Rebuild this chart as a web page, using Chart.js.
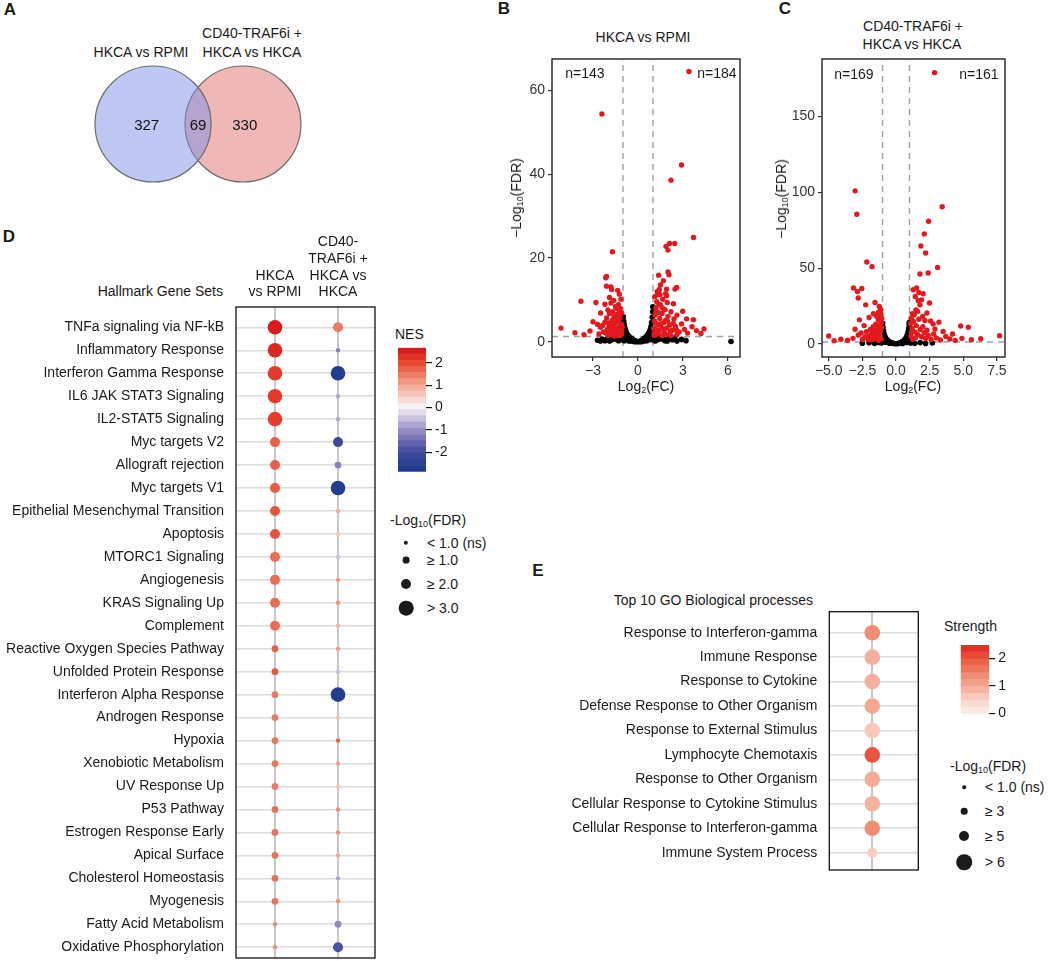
<!DOCTYPE html>
<html>
<head>
<meta charset="utf-8">
<title>Figure</title>
<script src="https://cdn.jsdelivr.net/npm/chart.js@4.4.1/dist/chart.umd.min.js"></script>
<style>
  body { margin:0; background:#fff; width:1050px; height:961px; position:relative; overflow:hidden;
         font-family:"Liberation Sans", Arial, sans-serif; color:#1a1a1a; }
  canvas, .t, .dot { position:absolute; }
  .t { font-size:14px; white-space:nowrap; line-height:16px; }
  .c { transform:translate(-50%,-50%); text-align:center; }
  .l { transform:translateY(-50%); }
  .r { transform:translate(-100%,-50%); text-align:right; }
  .p { font-weight:bold; font-size:17px; }
  .rot { transform:translate(-50%,-50%) rotate(-90deg); }
  sub { font-size:9px; vertical-align:-2px; line-height:0; }
  .dot { border-radius:50%; background:#1a1a1a; transform:translate(-50%,-50%); }
</style>
</head>
<body>

<!-- panel letters -->
<div class="t c p" style="left:10px;top:10px">A</div>
<div class="t c p" style="left:504px;top:9px">B</div>
<div class="t c p" style="left:785px;top:9px">C</div>
<div class="t c p" style="left:9px;top:237px">D</div>
<div class="t c p" style="left:538px;top:571px">E</div>

<!-- A -->
<div class="t c" style="left:141px;top:52px">HKCA vs RPMI</div>
<div class="t c" style="left:252px;top:33px">CD40-TRAF6i +</div>
<div class="t c" style="left:252px;top:52px">HKCA vs HKCA</div>
<canvas id="venn" width="240" height="130" style="left:80px;top:59px;width:240px;height:130px"></canvas>

<!-- B -->
<div class="t c" style="left:643px;top:37px">HKCA vs RPMI</div>
<canvas id="volcB" width="250" height="340" style="left:500px;top:55px;width:250px;height:340px"></canvas>
<div class="t c" style="left:585px;top:73px">n=143</div>
<div class="t c" style="left:717px;top:73px">n=184</div>
<div class="t rot" style="left:516px;top:198px">−Log<sub>10</sub>(FDR)</div>
<div class="t c" style="left:646px;top:386px">Log<sub>2</sub>(FC)</div>

<!-- C -->
<div class="t c" style="left:913px;top:26px">CD40-TRAF6i +</div>
<div class="t c" style="left:912px;top:44px">HKCA vs HKCA</div>
<canvas id="volcC" width="245" height="340" style="left:775px;top:55px;width:245px;height:340px"></canvas>
<div class="t c" style="left:854px;top:74px">n=169</div>
<div class="t c" style="left:979px;top:74px">n=161</div>
<div class="t rot" style="left:781px;top:199px">−Log<sub>10</sub>(FDR)</div>
<div class="t c" style="left:913px;top:386px">Log<sub>2</sub>(FC)</div>

<!-- D -->
<div class="t r" style="left:223px;top:291px">Hallmark Gene Sets</div>
<canvas id="dotD" width="380" height="736" style="left:0px;top:225px;width:380px;height:736px"></canvas>
<div class="t l" style="left:395px;top:334px">NES</div>
<canvas id="barD" width="80" height="140" style="left:390px;top:340px;width:80px;height:140px"></canvas>
<div class="t l" style="left:390px;top:520px">-Log<sub>10</sub>(FDR)</div>
<div class="dot" style="left:406px;top:543px;width:4.4px;height:4.4px"></div>
<div class="t l" style="left:427px;top:543px">&lt; 1.0 (ns)</div>
<div class="dot" style="left:406px;top:560px;width:6.8px;height:6.8px"></div>
<div class="t l" style="left:427px;top:560px">≥ 1.0</div>
<div class="dot" style="left:406px;top:583.5px;width:10px;height:10px"></div>
<div class="t l" style="left:427px;top:583.5px">≥ 2.0</div>
<div class="dot" style="left:406px;top:608px;width:14.6px;height:14.6px"></div>
<div class="t l" style="left:427px;top:608px">&gt; 3.0</div>

<!-- E -->
<div class="t r" style="left:813px;top:600px">Top 10 GO Biological processes</div>
<canvas id="dotE" width="385" height="315" style="left:540px;top:560px;width:385px;height:315px"></canvas>
<div class="t l" style="left:944px;top:626px">Strength</div>
<canvas id="barE" width="80" height="84" style="left:952px;top:638px;width:80px;height:84px"></canvas>
<div class="t l" style="left:950px;top:766px">-Log<sub>10</sub>(FDR)</div>
<div class="dot" style="left:964px;top:787px;width:3.6px;height:3.6px"></div>
<div class="t l" style="left:985px;top:787px">&lt; 1.0 (ns)</div>
<div class="dot" style="left:964px;top:811px;width:6.6px;height:6.6px"></div>
<div class="t l" style="left:985px;top:811px">≥ 3</div>
<div class="dot" style="left:964px;top:836px;width:10px;height:10px"></div>
<div class="t l" style="left:985px;top:836px">≥ 5</div>
<div class="dot" style="left:964px;top:862px;width:15.6px;height:15.6px"></div>
<div class="t l" style="left:985px;top:862px">&gt; 6</div>

<script>
// ---- data ----
const vennSets = ['HKCA vs RPMI', 'CD40-TRAF6i + HKCA vs HKCA'];
const vennCounts = [327, 69, 330];   // only left, overlap, only right

// volcano B : [log2FC, -log10 FDR]
const volcBRed = [
  [3.4,64.5],[-2.4,54.4],[2.9,42.2],[2.2,38.6],[3.7,24.9],[1.87,22.8],[2.45,23.5],[2.1,23.5],[2.0,21.9],
  [-1.7,21.5],[-2.1,15.6],[-2.15,15.3],[-1.8,13.1],[-1.75,12.5],[-1.35,12.3],[-1.24,11.4],[-2.1,13.3],
  [1.38,15.9],[2.0,16.7],[2.07,16.0],[1.69,14.6],[2.47,12.6],[2.58,13.0],[1.42,12.5],[1.91,12.6],[1.47,11.3],
  [1.91,11.0],[2.36,9.1],[2.98,7.3],[3.24,5.5],[3.69,5.3],[1.31,11.3],[1.85,11.5],
  [-3.8,9.7],[-2.8,9.4],[-2.2,9.0],[-1.8,9.3],[-1.3,8.9],[-1.13,10.2],[-2.49,6.9],[-2.09,5.7],[-5.13,3.3],
  [-3.0,4.8],[-2.7,4.2],[-2.5,3.5],[-2.35,3.9],
  [-2.0,7.6],[-1.9,6.8],[-1.7,7.2],[-1.6,6.1],[-1.5,5.4],[-1.4,6.6],[-1.3,4.9],[-1.2,5.8],[-1.1,4.2],
  [-1.05,3.5],[-1.15,2.8],[-1.25,3.6],[-1.35,2.4],[-1.45,3.1],[-1.55,2.2],[-1.65,4.0],[-1.75,3.2],[-1.85,2.6],
  [-1.95,4.5],[-2.05,3.0],[-2.15,2.1],[-1.1,1.8],[-1.2,1.5],[-1.4,1.6],[-1.6,1.4],[-1.8,1.9],[-2.0,1.6],
  [-2.3,2.4],[-2.6,1.9],[-3.2,2.6],[-3.6,1.7],[-4.2,2.2],[-1.08,6.9],[-1.18,8.0],[-1.5,8.4],[-1.62,9.9],[-1.9,10.6],
  [1.05,3.2],[1.1,5.0],[1.15,6.4],[1.2,8.1],[1.25,9.6],[1.3,4.1],[1.35,7.0],[1.4,2.6],[1.45,5.6],[1.5,8.8],
  [1.55,3.5],[1.6,6.8],[1.65,10.2],[1.7,4.6],[1.75,2.2],[1.8,7.7],[1.85,5.2],[1.9,3.3],[1.95,9.4],[2.0,6.1],
  [2.1,4.0],[2.2,7.2],[2.3,2.8],[2.4,5.5],[2.5,3.7],[2.6,6.4],[2.75,2.4],[2.9,4.3],[3.1,3.0],[3.3,2.1],
  [3.6,3.6],[3.9,2.7],[4.2,2.0],[4.4,3.1],[1.1,1.6],[1.3,1.9],[1.6,1.5],[1.9,1.7],[2.2,1.5],[2.6,1.8],
  [1.12,10.8],[1.28,12.0],[1.5,13.6],[1.2,7.2],[1.4,9.0],
  [1.08,2.0],[1.22,2.9],[1.48,4.3],[1.72,3.0],[1.98,4.9],[2.15,2.6],[2.35,4.4],[2.55,2.9],[1.18,4.5],[1.62,8.1],
  [-1.08,2.3],[-1.28,2.0],[-1.52,4.4],[-1.72,5.1],[-1.92,3.6],[-1.22,7.0],[-1.42,8.0],[-2.2,4.7]
];
const volcBBlack = [
  [-0.98,6.0],[-0.95,5.0],[-0.92,4.2],[-0.88,3.5],[-0.84,2.9],[-0.8,2.4],[-0.75,2.0],[-0.7,1.7],[-0.62,1.4],
  [-0.55,1.1],[-0.48,0.9],[-0.4,0.7],[-0.32,0.5],[-0.24,0.35],[-0.16,0.2],[-0.08,0.1],[0,0.05],[0.08,0.1],
  [0.16,0.2],[0.24,0.35],[0.32,0.55],[0.4,0.8],[0.48,1.0],[0.56,1.3],[0.64,1.7],[0.72,2.2],[0.8,2.8],
  [0.86,3.6],[0.91,4.6],[0.95,5.9],[0.98,7.2],[0.99,8.4],
  [-2.7,0.4],[-2.4,0.7],[-2.2,0.3],[-2.0,0.9],[-1.8,0.5],[-1.6,1.0],[-1.4,0.6],[-1.2,1.1],[-1.05,0.8],
  [-0.9,0.3],[-0.6,0.2],[-0.3,0.1],[0.3,0.1],[0.6,0.3],[0.9,0.5],[1.05,0.9],[1.2,0.4],[1.4,1.1],[1.6,0.7],
  [1.8,0.3],[2.0,0.9],[2.3,0.5],[2.6,0.2],[2.9,0.6],[3.2,0.3],[6.2,0.1],
  [-0.9,1.8],[-0.7,0.9],[-0.5,0.4],[0.5,0.5],[0.7,1.1],[0.9,2.0],[-0.95,2.8],[0.95,3.1],
  [-1.9,0.2],[-1.7,0.6],[-1.5,1.2],[-1.3,0.3],[-1.1,0.5],[-0.85,0.6],[-0.65,0.5],[-0.45,0.2],[-0.2,0.05],
  [0.2,0.05],[0.45,0.3],[0.65,0.6],[0.85,0.9],[1.0,1.2],[1.15,0.2],[1.35,0.6],[1.55,1.0],[1.75,0.5],
  [1.95,0.2],[2.15,0.7],[2.45,0.9],[-2.1,0.6],[-2.5,0.2],[-0.75,1.2],[0.75,1.5]
];

// volcano C
const volcCRed = [
  [2.87,179],[-3.04,101],[-2.91,85.6],[-2.17,54.1],[-1.78,51],[3.43,90.5],[2.42,81],[2.1,72.6],[1.85,64.7],
  [2.2,60],[3.09,50.5],[2.39,46.8],[1.78,46.2],[-3.16,36.9],[-2.87,34.6],[-2.54,36.6],[-2.81,30.3],[-2.25,25.8],
  [-1.56,27.4],[-1.24,24.7],[-1.13,22.5],[-1.68,19.9],[-1.43,18.1],[-1.06,17],[-2.72,15.9],[-2.37,12.1],[-3.04,9.7],
  [1.28,35.8],[1.53,36.9],[1.7,34],[2.02,33.1],[1.43,31.3],[1.65,28.7],[1.78,25.8],[1.48,22.5],[1.21,19.9],
  [1.98,18.1],[2.15,15.5],[2.57,15.2],[2.76,13.2],[3.19,14.4],[2.49,27],[1.9,29.1],[4.81,11.9],[5.38,11.1],
  [7.7,5.5],[-5.0,5.3],
  [-1.1,14.2],[-1.2,12.1],[-1.3,16.0],[-1.4,10.3],[-1.5,13.0],[-1.6,8.2],[-1.7,11.4],[-1.8,6.7],[-1.9,9.5],
  [-2.0,5.1],[-1.15,8.7],[-1.25,6.2],[-1.35,4.4],[-1.45,7.1],[-1.55,3.6],[-1.65,5.6],[-1.75,3.0],[-1.85,4.2],
  [-1.95,2.6],[-2.1,3.4],[-2.3,4.8],[-2.5,2.9],[-2.8,5.9],[-3.2,3.7],[-3.6,2.5],[-4.1,3.1],[-4.6,2.2],
  [-1.08,10.9],[-1.12,19.5],[-1.3,21.0],[-2.0,17.5],[-2.2,8.1],[-2.6,7.3],[-1.1,3.3],[-1.3,2.4],
  [1.08,13.5],[1.12,17.0],[1.2,10.2],[1.3,14.8],[1.4,8.0],[1.5,12.1],[1.6,6.3],[1.7,16.3],[1.8,9.6],[1.9,4.8],
  [2.0,11.4],[2.1,7.4],[2.2,3.6],[2.3,9.0],[2.4,5.6],[2.6,3.1],[2.8,6.6],[3.0,4.0],[3.3,2.6],[3.7,5.0],
  [4.0,3.3],[4.4,2.4],[4.9,3.7],[5.6,2.8],[6.3,3.5],[1.1,5.2],[1.25,3.1],[1.45,4.1],[1.15,7.6],[1.35,19.2],
  [1.6,21.5],[2.3,20.4],[2.9,9.8],[3.5,8.2],[4.2,6.6]
];
const volcCBlack = [
  [-0.99,13.7],[-0.97,11.2],[-0.94,9.0],[-0.9,7.2],[-0.85,5.6],[-0.8,4.4],[-0.73,3.4],[-0.65,2.6],[-0.56,1.9],
  [-0.46,1.3],[-0.36,0.9],[-0.26,0.5],[-0.16,0.3],[-0.06,0.1],[0.06,0.1],[0.16,0.3],[0.26,0.6],[0.36,1.0],
  [0.46,1.5],[0.56,2.1],[0.65,2.9],[0.73,3.8],[0.8,5.0],[0.86,6.5],[0.91,8.3],[0.95,10.4],[0.98,12.6],[0.99,14.1],
  [-2.5,0.5],[-2.0,0.8],[-1.6,0.4],[-1.3,1.0],[-1.1,0.6],[-0.8,1.2],[-0.5,0.4],[0.5,0.3],[0.8,1.0],[1.1,0.7],
  [1.4,0.4],[1.8,0.9],[2.2,0.3],[2.7,0.6],[-0.9,3.0],[0.9,3.4],[-0.7,1.5],[0.7,1.6]
];
const volcBXTicks = [-3, 0, 3, 6];
const volcBYTicks = [0, 20, 40, 60];
const volcCXTicks = [-5, -2.5, 0, 2.5, 5, 7.5];
const volcCYTicks = [0, 50, 100, 150];

// D : hallmark gene sets
const hallmarkSets = ['TNFa signaling via NF-kB','Inflammatory Response','Interferon Gamma Response',
  'IL6 JAK STAT3 Signaling','IL2-STAT5 Signaling','Myc targets V2','Allograft rejection','Myc targets V1',
  'Epithelial Mesenchymal Transition','Apoptosis','MTORC1 Signaling','Angiogenesis','KRAS Signaling Up',
  'Complement','Reactive Oxygen Species Pathway','Unfolded Protein Response','Interferon Alpha Response',
  'Androgen Response','Hypoxia','Xenobiotic Metabolism','UV Response Up','P53 Pathway','Estrogen Response Early',
  'Apical Surface','Cholesterol Homeostasis','Myogenesis','Fatty Acid Metabolism','Oxidative Phosphorylation'];
const hallmarkColumns = [['HKCA','vs RPMI'], ['CD40-','TRAF6i +','HKCA vs','HKCA']];
const nesHkca = [2.55,2.4,2.15,2.15,2.1,1.75,1.75,1.8,1.85,1.9,1.6,1.6,1.6,1.6,1.75,1.8,1.45,1.45,1.5,1.5,
  1.45,1.55,1.55,1.55,1.6,1.55,1.25,1.25];
const fdrHkca = [3.6,3.5,3.4,3.4,3.3,2.5,2.4,2.4,2.5,2.5,2.4,2.4,2.4,2.4,1.6,1.5,1.5,1.5,1.5,1.5,
  1.5,1.5,1.4,1.4,1.4,1.4,0.7,0.6];
const nesTraf = [1.45,-1.2,-2.7,-0.8,-0.75,-2.0,-1.2,-2.7,0.9,0.6,-0.5,1.2,1.2,0.8,1.1,-0.5,-2.7,0.65,1.7,
  1.05,0.6,1.25,1.25,0.95,-0.8,1.25,-1.1,-1.9];
const fdrTraf = [2.3,0.4,3.6,0.3,0.3,2.4,1.3,3.5,0.4,0.3,0.2,0.3,0.3,0.2,0.3,0.2,3.6,0.2,0.5,0.3,0.2,0.4,0.4,
  0.3,0.3,0.4,1.4,2.4];
const nesTicks = [-2, -1, 0, 1, 2];

// E : GO processes
const goTerms = ['Response to Interferon-gamma','Immune Response','Response to Cytokine',
  'Defense Response to Other Organism','Response to External Stimulus','Lymphocyte Chemotaxis',
  'Response to Other Organism','Cellular Response to Cytokine Stimulus','Cellular Response to Interferon-gamma',
  'Immune System Process'];
const goStrength = [1.35,0.9,0.9,1.0,0.6,2.0,0.95,0.85,1.35,0.55];
const goFdr = [9.5,8.8,8.6,8.2,8.0,6.8,7.9,7.6,6.9,5.6];
const strengthTicks = [0, 1, 2];

// ---- helpers ----
Chart.defaults.font.family = '"Liberation Sans", Arial, sans-serif';
Chart.defaults.font.size = 14;
Chart.defaults.color = '#1a1a1a';

const nesStops = [[-2.86,'#1d3a8a'],[-2,'#3f4a9e'],[-1,'#9b8fc6'],[0,'#f7f4f9'],[1,'#f3a68f'],[2,'#e5472f'],[2.67,'#d6121a']];
const strStops = [[-0.03,'#fcf1ed'],[0.5,'#f9d1c4'],[1,'#f3a892'],[1.5,'#ee8166'],[2,'#e8553e'],[2.48,'#e2201d']];

function hex(c) { return [1,3,5].map(i => parseInt(c.slice(i, i+2), 16)); }
function colour(v, stops) {
  if (v <= stops[0][0]) return stops[0][1];
  for (let i = 1; i < stops.length; i++) {
    if (v <= stops[i][0]) {
      const t = (v - stops[i-1][0]) / (stops[i][0] - stops[i-1][0]);
      const a = hex(stops[i-1][1]), b = hex(stops[i][1]);
      return 'rgb(' + a.map((x, k) => Math.round(x + (b[k] - x) * t)).join(',') + ')';
    }
  }
  return stops[stops.length-1][1];
}
function sizeD(f) { return f > 3 ? 7.3 : f >= 2 ? 5 : f >= 1 ? 3.4 : 2.2; }
function sizeE(f) { return f > 6 ? 7.8 : f >= 5 ? 5 : f >= 3 ? 3.3 : 1.8; }
function setTicks(list) { return s => { s.ticks = list.map(v => ({value: v})); }; }
// fixed axis size, and no extra room reserved for the end labels
function fixW(w) { return s => { s.width = w; s.paddingTop = s.paddingBottom = 0; }; }
function fixH(h) { return s => { s.height = h; s.paddingLeft = s.paddingRight = 0; }; }

const framePlugin = {
  id: 'frame',
  afterDatasetsDraw(chart, args, opts) {
    if (!opts.show) return;
    const a = chart.chartArea, ctx = chart.ctx;
    ctx.save();
    ctx.strokeStyle = opts.color || '#222';
    ctx.lineWidth = opts.width || 1.3;
    ctx.strokeRect(a.left, a.top, a.right - a.left, a.bottom - a.top);
    ctx.restore();
  }
};

const base = { responsive: false, animation: false, events: [] };

// ---- A venn ----
const vennLabelX = [-0.07, 0.5, 1.02];
new Chart(document.getElementById('venn'), {
  type: 'scatter',
  data: { datasets: vennSets.map((s, i) => ({
    label: s, data: [{x: i, y: 0}], pointRadius: 58, clip: false,
    backgroundColor: ['rgba(127,145,229,0.5)', 'rgba(225,111,111,0.5)'][i],
    borderColor: '#6b6b6b', borderWidth: 1.2
  })) },
  options: { ...base, layout: {padding: 0, autoPadding: false},
    plugins: { legend: {display: false}, tooltip: {enabled: false} },
    scales: { x: {display: false, min: -0.811, max: 1.856}, y: {display: false, min: -1, max: 1} } },
  plugins: [{
    id: 'vennText',
    afterDatasetsDraw(chart) {
      const ctx = chart.ctx, xs = chart.scales.x, ys = chart.scales.y;
      ctx.save();
      ctx.fillStyle = '#111'; ctx.font = '15px "Liberation Sans", Arial, sans-serif';
      ctx.textAlign = 'center'; ctx.textBaseline = 'middle';
      vennCounts.forEach((n, i) => ctx.fillText(n, xs.getPixelForValue(vennLabelX[i]), ys.getPixelForValue(0) + 2));
      ctx.restore();
    }
  }]
});

// ---- B / C volcano ----
function volcano(id, red, black, xr, yr, xTicks, yTicks, fmt, yW, padR) {
  const dash = { type: 'line', borderColor: '#a0a0a0', borderWidth: 1.4, borderDash: [6, 5], pointRadius: 0, order: 3 };
  new Chart(document.getElementById(id), {
    type: 'scatter',
    data: { datasets: [
      { ...dash, data: [{x: xr[0], y: 1.3}, {x: xr[1], y: 1.3}] },
      { ...dash, data: [{x: -1, y: yr[0]}, {x: -1, y: yr[1]}] },
      { ...dash, data: [{x: 1, y: yr[0]}, {x: 1, y: yr[1]}] },
      { data: black.map(p => ({x: p[0], y: p[1]})), backgroundColor: '#000', borderWidth: 0, pointRadius: 2.8, order: 2 },
      { data: red.map(p => ({x: p[0], y: p[1]})), backgroundColor: '#e3191e', borderWidth: 0, pointRadius: 2.7, order: 1 }
    ] },
    options: { ...base,
      layout: { padding: {top: 4, right: padR, bottom: 0, left: 0}, autoPadding: false },
      plugins: { legend: {display: false}, tooltip: {enabled: false}, frame: {show: true, color: '#222', width: 1.4} },
      scales: {
        x: { type: 'linear', min: xr[0], max: xr[1], afterFit: fixH(38), afterBuildTicks: setTicks(xTicks),
             ticks: { callback: fmt, color: '#333', padding: 2, maxRotation: 0, autoSkip: false },
             grid: { drawOnChartArea: false, tickLength: 4, color: '#333', lineWidth: 1.2 }, border: {display: false} },
        y: { type: 'linear', min: yr[0], max: yr[1], afterFit: fixW(yW), afterBuildTicks: setTicks(yTicks),
             ticks: { color: '#333', padding: 3, autoSkip: false },
             grid: { drawOnChartArea: false, tickLength: 4, color: '#333', lineWidth: 1.2 }, border: {display: false} }
      } },
    plugins: [framePlugin]
  });
}
volcano('volcB', volcBRed, volcBBlack, [-5.73, 6.8], [-3.6, 67.5], volcBXTicks, volcBYTicks,
  v => String(v).replace('-', '−'), 52, 10);
volcano('volcC', volcCRed, volcCBlack, [-5.5, 8.1], [-8.6, 188], volcCXTicks, volcCYTicks,
  v => v.toFixed(1).replace('-', '−'), 47, 15);

// ---- D / E dot plots ----
function dotPlot(id, rows, cols, series, xr, yr, yW, xH, pad) {
  new Chart(document.getElementById(id), {
    type: 'scatter',
    data: { datasets: series.map((s, c) => ({
      data: rows.map((r, i) => ({x: c, y: i})), clip: false,
      pointRadius: s.size, pointBackgroundColor: s.color, borderWidth: 0
    })) },
    options: { ...base,
      layout: { padding: pad, autoPadding: false },
      plugins: { legend: {display: false}, tooltip: {enabled: false}, frame: {show: true, color: '#111', width: 1.3} },
      scales: {
        x: { type: 'linear', position: 'top', min: xr[0], max: xr[1], afterFit: fixH(xH),
             afterBuildTicks: setTicks(series.map((s, c) => c)),
             ticks: { display: cols !== null, callback: v => cols ? cols[v] : '', padding: 6, maxRotation: 0, autoSkip: false,
                      color: '#1a1a1a', font: {size: 14, lineHeight: 1.2} },
             grid: { color: '#c8c8c8', lineWidth: 2, drawTicks: false }, border: {display: false} },
        y: { type: 'linear', reverse: true, min: yr[0], max: yr[1], afterFit: fixW(yW),
             afterBuildTicks: setTicks(rows.map((r, i) => i)),
             ticks: { callback: v => rows[v], padding: 12, autoSkip: false, color: '#1a1a1a' },
             grid: { color: '#dcdcdc', lineWidth: 1.5, drawTicks: false }, border: {display: false} }
      } },
    plugins: [framePlugin]
  });
}
dotPlot('dotD', hallmarkSets, hallmarkColumns, [
    { size: fdrHkca.map(sizeD), color: nesHkca.map(v => colour(v, nesStops)) },
    { size: fdrTraf.map(sizeD), color: nesTraf.map(v => colour(v, nesStops)) }
  ], [-0.619, 1.587], [-0.884, 27.47], 236, 82, {top: 0, right: 5, bottom: 3, left: 0});
dotPlot('dotE', goTerms, null, [
    { size: goFdr.map(sizeE), color: goStrength.map(v => colour(v, strStops)) }
  ], [-1, 1.07], [-0.86, 9.71], 289.3, 0, {top: 51.7, right: 6.7, bottom: 5, left: 0});

// ---- colour bars ----
function colourBar(id, lo, hi, bands, stops, ticks, axisW, pad) {
  const step = (hi - lo) / bands, sets = [];
  for (let i = 0; i < bands; i++) {
    const a = lo + i * step, b = a + step;
    sets.push({ data: [[a, b]], backgroundColor: colour((a + b) / 2, stops), borderWidth: 0,
                barPercentage: 1, categoryPercentage: 1, grouped: false });
  }
  new Chart(document.getElementById(id), {
    type: 'bar',
    data: { labels: [''], datasets: sets },
    options: { ...base, layout: { padding: pad },
      plugins: { legend: {display: false}, tooltip: {enabled: false} },
      scales: {
        x: { display: false },
        y: { position: 'right', min: lo, max: hi, afterFit: fixW(axisW), afterBuildTicks: setTicks(ticks),
             ticks: { padding: 3, color: '#1a1a1a' },
             grid: { drawOnChartArea: false, tickLength: 6, color: '#111', lineWidth: 1.2 }, border: {display: false} }
      } }
  });
}
colourBar('barD', -2.86, 2.67, 20, nesStops, nesTicks, 44, {top: 7.7, right: 0, bottom: 8.3, left: 8});
colourBar('barE', -0.03, 2.48, 10, strStops, strengthTicks, 42.7, {top: 7, right: 0, bottom: 8, left: 8.7});
</script>
</body>
</html>
